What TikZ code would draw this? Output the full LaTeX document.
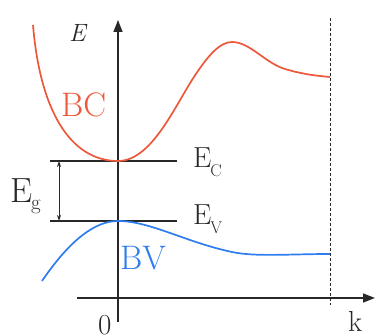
\documentclass[tikz,border=0pt]{standalone}
\usetikzlibrary{arrows.meta}
\definecolor{bcred}{RGB}{238,88,58}
\definecolor{bvblue}{RGB}{45,125,240}
\definecolor{axisgray}{RGB}{40,40,40}
\tikzset{
  axisline/.style={axisgray,line width=1.6pt},
  level/.style={axisgray,line width=1.5pt},
  band/.style={line width=1.7pt},
  lbl/.style={inner sep=0pt,anchor=base west,text=axisgray},
}
\newcommand{\fs}[1]{\fontsize{#1}{#1}\selectfont}
\begin{document}
\begin{tikzpicture}[x=1pt,y=-1pt]
\useasboundingbox (0,0) rectangle (376,336);
% axes
\coordinate (vb) at (118,322);
\coordinate (vt) at (118,20);
\coordinate (hl) at (77,298);
\coordinate (hr) at (375,298);
\draw[axisline,-{Triangle[length=12pt,width=9pt]}] (vb) -- (vt);
\draw[axisline,-{Triangle[length=12pt,width=9pt]}] (hl) -- (hr);
% dashed zone edge
\coordinate (dt) at (330,18);
\coordinate (db) at (330,305);
\draw[axisgray,line width=0.8pt,dash pattern=on 3pt off 2pt] (dt) -- (db);
% levels
\coordinate (ecl) at (50,161);
\coordinate (ecr) at (177,161);
\coordinate (evl) at (50,221);
\coordinate (evr) at (177,221);
\draw[level] (ecl) -- (ecr);
\draw[level] (evl) -- (evr);
\coordinate (ga) at (59,161);
\coordinate (gb) at (59,221);
\draw[axisgray,line width=0.9pt,{Stealth[length=6pt,width=4pt]}-{Stealth[length=6pt,width=4pt]}] (ga) -- (gb);
% bands
\draw[band,bcred] (33,25) .. controls (40,110) and (70,161) .. (118,161)
  .. controls (150,161) and (172,112) .. (192,80)
  .. controls (208,55) and (220,42) .. (232,42)
  .. controls (250,42) and (265,63) .. (285,69)
  .. controls (305,75) and (320,76) .. (330,77);
\draw[band,bvblue] (42,281) .. controls (70,240) and (95,221) .. (118,221)
  .. controls (150,221) and (185,242) .. (232,252)
  .. controls (255,257) and (290,254) .. (330,254);
% labels
\node[lbl,font=\fs{25}\itshape] (E) at (69,42) {E};
\node[lbl,font=\fs{34},text=bcred] (BC) at (61,117) {BC};
\node[lbl,font=\fs{34},text=bvblue] (BV) at (120,270) {BV};
\node[lbl,font=\fs{35}] (Eg) at (10,203) {E\kern-1pt\raisebox{-7pt}{\fs{21}g}};
\node[lbl,font=\fs{29}] (Ec) at (193,168) {E\kern-1pt\raisebox{-9pt}{\fs{17}C}};
\node[lbl,font=\fs{29}] (Ev) at (193,225) {E\kern-1pt\raisebox{-9pt}{\fs{17}V}};
\node[lbl,font=\fs{29}] (zero) at (98,335) {0};
\node[lbl,font=\fs{29}] (k) at (348,332) {k};
\end{tikzpicture}
\end{document}
